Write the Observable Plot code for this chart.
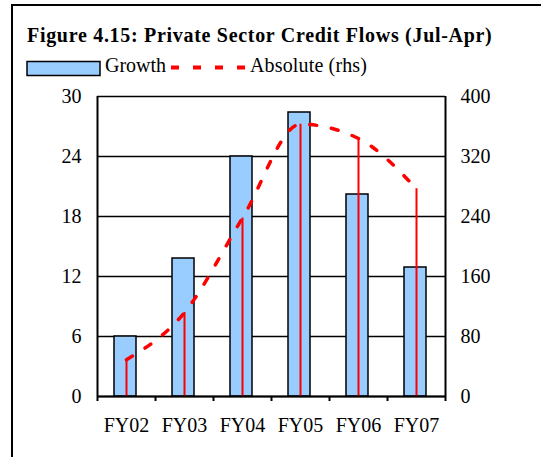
<!DOCTYPE html>
<html>
<head>
<meta charset="utf-8">
<script src="https://cdn.jsdelivr.net/npm/d3@7"></script>
<script src="https://cdn.jsdelivr.net/npm/@observablehq/plot@0.6"></script>
<style>
  html, body { margin: 0; padding: 0; background: #fff; }
  #wrap { position: relative; width: 541px; height: 457px; overflow: hidden; font-family: "Liberation Serif", "Times New Roman", serif; color: #000; }
  #frame { position: absolute; left: 11px; top: 4px; width: 600px; height: 600px; border-top: 2px solid #000; border-left: 2px solid #000; }
  #title { position: absolute; left: 27px; top: 25px; font-size: 20px; font-weight: bold; line-height: 20px; white-space: nowrap; letter-spacing: 0.7px; }
  .leg { position: absolute; font-size: 20px; line-height: 20px; white-space: nowrap; }
  #chart { position: absolute; left: 0; top: 85px; }
</style>
</head>
<body>
<div id="wrap">
  <div id="frame"></div>
  <div id="title">Figure 4.15: Private Sector Credit Flows (Jul-Apr)</div>
  <svg style="position:absolute;left:0;top:55px" width="541" height="28">
    <rect x="27" y="6.5" width="73" height="14" fill="#99CCFF" stroke="#000" stroke-width="1.5"></rect>
    <line x1="171" x2="245" y1="12.5" y2="12.5" stroke="red" stroke-width="4" stroke-dasharray="8,14"></line>
  </svg>
  <div class="leg" style="left:105px;top:55px">Growth</div>
  <div class="leg" style="left:250px;top:55px;letter-spacing:0.15px">Absolute (rhs)</div>
  <div id="chart"></div>
</div>
<script>
const categories = ["FY02", "FY03", "FY04", "FY05", "FY06", "FY07"];
const growth = [6.0, 13.8, 24.0, 28.4, 20.2, 12.9];
const absolute = [49, 112, 238, 363, 344, 277];
const leftTicks = [0, 6, 12, 18, 24, 30];
const rightTicks = [0, 80, 160, 240, 320, 400];

const ratio = 30 / 400;
const data = categories.map((c, i) => ({cat: c, growth: growth[i], abs: absolute[i], absScaled: absolute[i] * ratio}));
const bw = (541 - 97 - 96) / categories.length;

const chart = Plot.plot({
  width: 541,
  height: 372,
  marginLeft: 97,
  marginRight: 96,
  marginTop: 11,
  marginBottom: 61,
  style: {fontFamily: "Liberation Serif, Times New Roman, serif", fontSize: "20px", color: "#000", background: "transparent"},
  x: {domain: categories, padding: 0, label: null},
  y: {domain: [0, 30], label: null},
  marks: [
    Plot.ruleY(leftTicks, {y: d => d, stroke: "#000", strokeWidth: 1.5}),
    Plot.ruleX([categories[0]], {x: d => d, dx: -bw / 2, y1: -0.5, y2: 30, stroke: "#000", strokeWidth: 2}),
    Plot.ruleX([categories[categories.length - 1]], {x: d => d, dx: bw / 2, y1: -0.5, y2: 30, stroke: "#000", strokeWidth: 2}),
    Plot.ruleX(categories.slice(1), {x: d => d, dx: -bw / 2, y1: -0.5, y2: 0, stroke: "#000", strokeWidth: 2}),
    Plot.barY(data, {x: "cat", y: "growth", fill: "#99CCFF", stroke: "#000", strokeWidth: 1.5, insetLeft: 17, insetRight: 19}),
    Plot.ruleX(data, {x: "cat", y1: 0, y2: "absScaled", stroke: "red", strokeWidth: 2}),
    Plot.line(data, {x: "cat", y: "absScaled", stroke: "red", strokeWidth: 3.5, strokeDasharray: "7,15", curve: "monotone-x"}),
    Plot.ruleY([0], {stroke: "#000", strokeWidth: 2}),
    Plot.axisY(leftTicks, {anchor: "left", tickSize: 0, tickPadding: 16, label: null, fontSize: 20}),
    Plot.axisY(rightTicks.map(v => v * ratio), {anchor: "right", tickSize: 0, tickPadding: 15, label: null, fontSize: 20, tickFormat: (d, i) => String(rightTicks[i])}),
    Plot.axisX(categories, {anchor: "bottom", tickSize: 0, tickPadding: 21, label: null, fontSize: 20})
  ]
});
document.getElementById("chart").appendChild(chart);
</script>
</body>
</html>
